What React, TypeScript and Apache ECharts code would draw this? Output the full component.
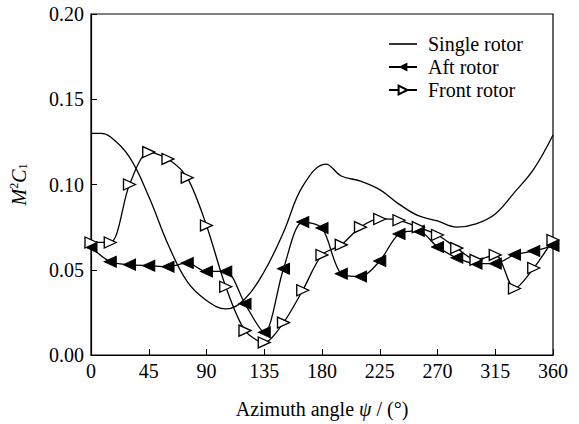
import React, { useEffect, useRef } from "react";
import * as echarts from "echarts";

const angles = [0, 15, 30, 45, 60, 75, 90, 105, 120, 135, 150, 165, 180, 195, 210, 225, 240, 255, 270, 285, 300, 315, 330, 345, 360];
const singleAngles = [0, 8, 15, 30, 45, 60, 75, 90, 105, 120, 135, 150, 165, 183, 195, 210, 225, 240, 255, 270, 285, 300, 315, 330, 345, 360];
const singleRotor = [0.130, 0.130, 0.128, 0.116, 0.093, 0.065, 0.043, 0.032, 0.027, 0.033, 0.049, 0.072, 0.099, 0.112, 0.105, 0.102, 0.097, 0.0885, 0.0817, 0.0786, 0.075, 0.0769, 0.0827, 0.0954, 0.109, 0.129];
const aftRotor = [0.0633, 0.0547, 0.053, 0.0524, 0.0518, 0.054, 0.049, 0.049, 0.030, 0.0133, 0.0506, 0.078, 0.0745, 0.0477, 0.046, 0.0552, 0.071, 0.0728, 0.0634, 0.057, 0.0536, 0.0536, 0.0588, 0.061, 0.064];
const frontRotor = [0.066, 0.066, 0.100, 0.119, 0.115, 0.104, 0.076, 0.040, 0.0143, 0.0074, 0.019, 0.038, 0.0587, 0.0646, 0.075, 0.0798, 0.079, 0.075, 0.0704, 0.0627, 0.0558, 0.0587, 0.039, 0.051, 0.0675];
const seriesNames = ["Single rotor", "Aft rotor", "Front rotor"];

const FONT = "'Liberation Serif', 'Times New Roman', serif";
const FS = 20;

export default function App() {
  const ref = useRef<HTMLDivElement>(null);
  useEffect(() => {
    if (!ref.current) return;
    const chart = echarts.init(ref.current, undefined, { renderer: "svg" });
    const pair = (xs: number[], ys: number[]) => xs.map((x, i) => [x, ys[i]]);
    chart.setOption({
      animation: false,
      backgroundColor: "#fff",
      textStyle: { fontFamily: FONT },
      grid: { left: 89, right: 26, top: 14, bottom: 67, show: true, borderColor: "#000", borderWidth: 1.2 },
      legend: {
        orient: "vertical",
        left: 383,
        top: 29,
        itemGap: 3,
        itemWidth: 28,
        itemHeight: 11,
        data: [
          { name: seriesNames[0], icon: "path://M0,0 L28,0 L28,1.6 L0,1.6 Z" },
          { name: seriesNames[1] },
          { name: seriesNames[2] },
        ],
        textStyle: { fontFamily: FONT, fontSize: FS, color: "#000", padding: [0, 0, 0, 6] },
      },
      xAxis: {
        type: "value",
        min: 0,
        max: 360,
        interval: 45,
        name: "{n|Azimuth angle }{i|ψ}{n| / (°)}",
        nameLocation: "middle",
        nameGap: 44,
        nameTextStyle: {
          fontFamily: FONT,
          rich: {
            n: { fontFamily: FONT, fontSize: FS, color: "#000" },
            i: { fontFamily: FONT, fontSize: FS, color: "#000", fontStyle: "italic" },
          },
        },
        axisLine: { lineStyle: { color: "#000", width: 1.2 } },
        axisTick: { inside: true, length: 6, lineStyle: { color: "#000" } },
        axisLabel: { fontFamily: FONT, fontSize: FS, color: "#000", margin: 6 },
        splitLine: { show: false },
      },
      yAxis: {
        type: "value",
        min: 0,
        max: 0.2,
        interval: 0.05,
        name: "{i|M}{s|2}{i|C}{b|1}",
        nameLocation: "middle",
        nameGap: 62,
        nameRotate: 90,
        nameTextStyle: {
          fontFamily: FONT,
          rich: {
            i: { fontFamily: FONT, fontSize: FS, color: "#000", fontStyle: "italic" },
            s: { fontFamily: FONT, fontSize: 12, color: "#000", verticalAlign: "top", padding: [0, 0, 9, 0] },
            b: { fontFamily: FONT, fontSize: 12, color: "#000", verticalAlign: "bottom", padding: [7, 0, 0, 0] },
          },
        },
        axisLine: { show: true, lineStyle: { color: "#000", width: 1.2 } },
        axisTick: { show: true, inside: true, length: 6, lineStyle: { color: "#000" } },
        axisLabel: { fontFamily: FONT, fontSize: FS, color: "#000", margin: 7, formatter: (v: number) => v.toFixed(2) },
        splitLine: { show: false },
      },
      series: [
        {
          name: seriesNames[0],
          type: "line",
          smooth: 0.4,
          showSymbol: false,
          symbol: "none",
          data: pair(singleAngles, singleRotor),
          lineStyle: { color: "#000", width: 1.3 },
          itemStyle: { color: "#000" },
        },
        {
          name: seriesNames[1],
          type: "line",
          smooth: 0.3,
          symbol: "triangle",
          symbolSize: [11, 12],
          symbolRotate: 90,
          data: pair(angles, aftRotor),
          lineStyle: { color: "#000", width: 1.3 },
          itemStyle: { color: "#000", borderColor: "#000" },
        },
        {
          name: seriesNames[2],
          type: "line",
          smooth: 0.3,
          symbol: "triangle",
          symbolSize: [11, 12],
          symbolRotate: -90,
          data: pair(angles, frontRotor),
          lineStyle: { color: "#000", width: 1.3 },
          itemStyle: { color: "#fff", borderColor: "#000", borderWidth: 1.3 },
        },
      ],
    });
    return () => chart.dispose();
  }, []);
  return <div ref={ref} style={{ width: 579, height: 424, position: "absolute", left: 0, top: 0 }} />;
}
